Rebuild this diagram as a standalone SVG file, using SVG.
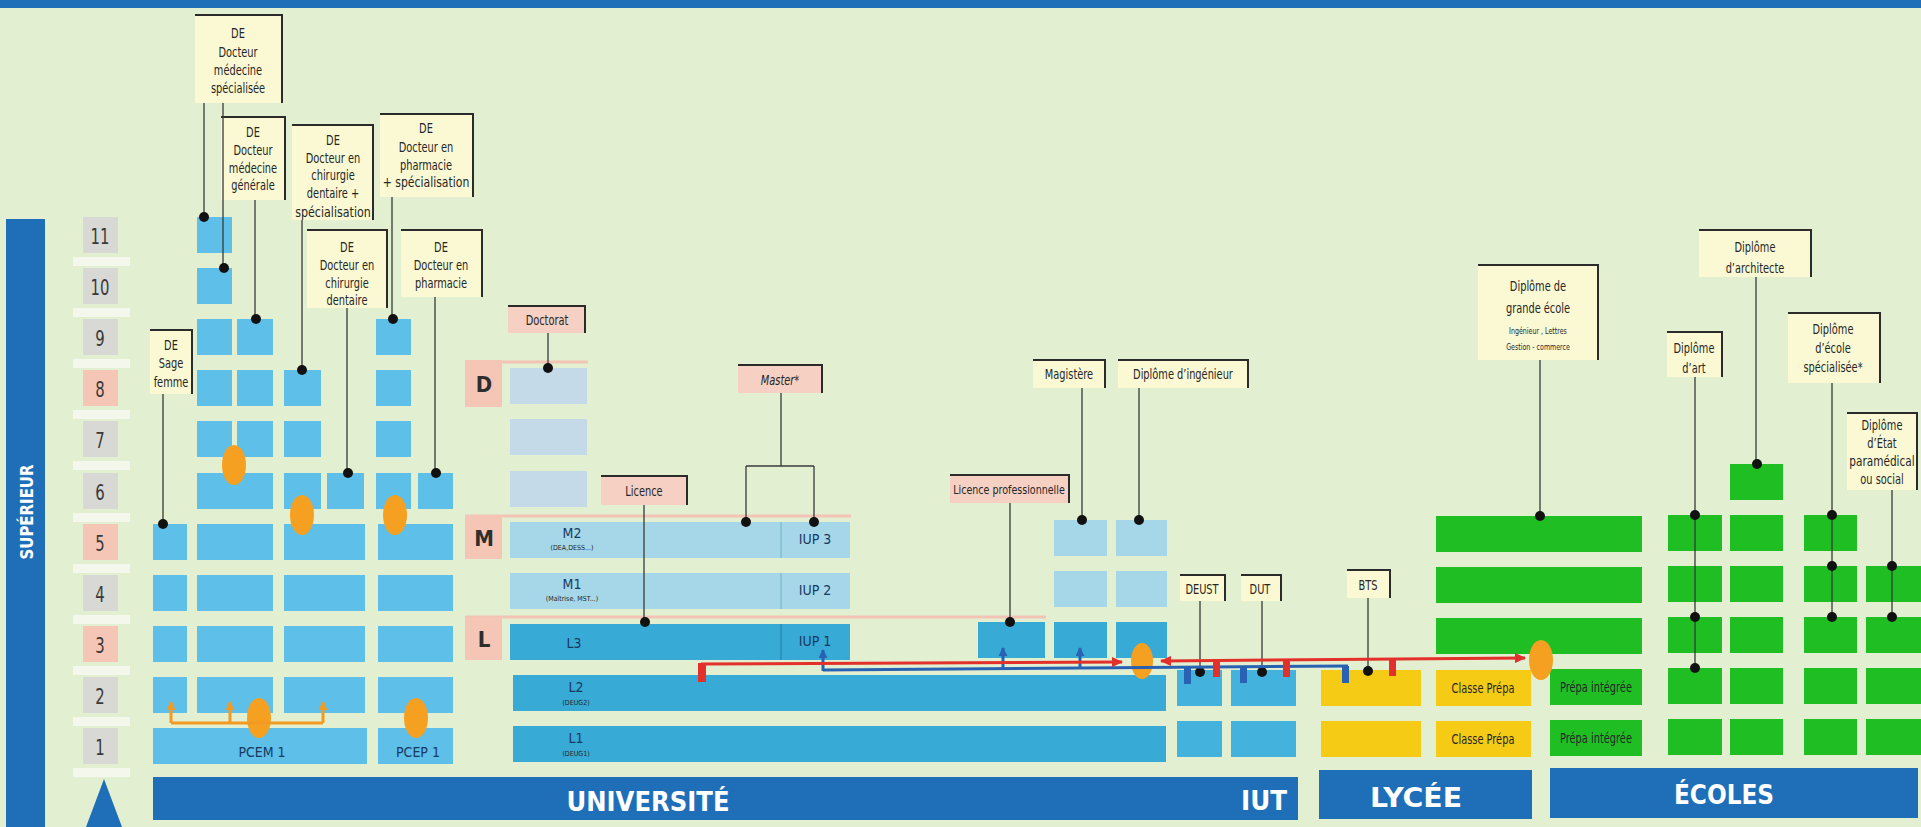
<svg xmlns="http://www.w3.org/2000/svg" width="1921" height="827" viewBox="0 0 1921 827">
<defs>
<style>
.med{fill:#5ebfe9}
.ul{fill:#38aad6}
.um{fill:#a5d7e8}
.ud{fill:#c4dae8}
.iut{fill:#43b2dc}
.grn{fill:#1fbe22}
.yel{fill:#f5cb16}
.org{fill:#f5a020}
.bar{fill:#1f6eb8}
.lbl{fill:#fbf9d4}
.lbp{fill:#f5d0c3}
.frm{fill:none;stroke:#2b2b2b;stroke-width:2}
.ln{fill:none;stroke:#3a3a3a;stroke-width:1.3}
.dot{fill:#111}
.lvg{fill:#d8d8d5}
.lvp{fill:#f5c6b6}
.strip{fill:#f4f7ec}
.t{font-family:"DejaVu Sans Condensed","DejaVu Sans","Liberation Sans",sans-serif;font-stretch:condensed;fill:#262626;text-anchor:middle}
.s14{font-size:14px}
.s12{font-size:12px}
.s8{font-size:7px}
.num{font-size:22px;fill:#3a3a3a}
.dml{font-size:22px;font-weight:bold;fill:#2e2e2e}
.nv{fill:#183a62;font-size:14px}
.big{font-family:"DejaVu Sans Condensed","DejaVu Sans","Liberation Sans",sans-serif;font-weight:bold;fill:#ffffff;text-anchor:middle;font-size:27px}
.red{stroke:#e3302a;stroke-width:3;fill:none}
.blu{stroke:#2a62b3;stroke-width:3;fill:none}
.orl{stroke:#f29a22;stroke-width:3;fill:none}
</style>
<marker id="ar" markerWidth="12" markerHeight="10" refX="10" refY="5" orient="auto-start-reverse" markerUnits="userSpaceOnUse"><path d="M0,0 L11,5 L0,10 z" fill="#e3302a"/></marker>
<marker id="ab" markerWidth="10" markerHeight="9" refX="8" refY="4.5" orient="auto" markerUnits="userSpaceOnUse"><path d="M0,0 L9,4.5 L0,9 z" fill="#2a62b3"/></marker>
<marker id="ao" markerWidth="10" markerHeight="9" refX="8" refY="4.5" orient="auto" markerUnits="userSpaceOnUse"><path d="M0,0 L9,4.5 L0,9 z" fill="#f29a22"/></marker>
</defs>

<rect x="0" y="0" width="1921" height="827" fill="#e2f0d1"/>
<rect x="0" y="0" width="1921" height="8" class="bar"/>

<g id="axis">
<rect x="6" y="219" width="39" height="608" class="bar"/>
<text class="big" transform="translate(33,512) rotate(-90)" textLength="95" lengthAdjust="spacingAndGlyphs" style="font-size:18px">SUPÉRIEUR</text>
<path d="M104,779 L122,827 L86,827 z" class="bar"/>
<rect x="73" y="257" width="57" height="9" class="strip"/>
<rect x="73" y="308" width="57" height="9" class="strip"/>
<rect x="73" y="359" width="57" height="9" class="strip"/>
<rect x="73" y="410" width="57" height="9" class="strip"/>
<rect x="73" y="461" width="57" height="9" class="strip"/>
<rect x="73" y="513" width="57" height="9" class="strip"/>
<rect x="73" y="564" width="57" height="9" class="strip"/>
<rect x="73" y="615" width="57" height="9" class="strip"/>
<rect x="73" y="666" width="57" height="9" class="strip"/>
<rect x="73" y="717" width="57" height="9" class="strip"/>
<rect x="73" y="768" width="57" height="9" class="strip"/>
<rect x="83" y="217" width="35" height="36" class="lvg"/>
<rect x="83" y="268" width="35" height="36" class="lvg"/>
<rect x="83" y="319" width="35" height="36" class="lvg"/>
<rect x="83" y="370" width="35" height="36" class="lvp"/>
<rect x="83" y="421" width="35" height="36" class="lvg"/>
<rect x="83" y="473" width="35" height="36" class="lvg"/>
<rect x="83" y="524" width="35" height="36" class="lvp"/>
<rect x="83" y="575" width="35" height="36" class="lvg"/>
<rect x="83" y="626" width="35" height="36" class="lvp"/>
<rect x="83" y="677" width="35" height="36" class="lvg"/>
<rect x="83" y="728" width="35" height="36" class="lvg"/>
<g transform="matrix(0.75 0 0 1 25 0)">
<text class="t num" x="100" y="244">11</text>
<text class="t num" x="100" y="295">10</text>
<text class="t num" x="100" y="346">9</text>
<text class="t num" x="100" y="397">8</text>
<text class="t num" x="100" y="448">7</text>
<text class="t num" x="100" y="500">6</text>
<text class="t num" x="100" y="551">5</text>
<text class="t num" x="100" y="602">4</text>
<text class="t num" x="100" y="653">3</text>
<text class="t num" x="100" y="704">2</text>
<text class="t num" x="100" y="755">1</text>
</g>
</g>

<g id="bars">
<rect x="153" y="777" width="1145" height="43" class="bar"/>
<rect x="1319" y="770" width="213" height="49" class="bar"/>
<rect x="1550" y="768" width="368" height="50" class="bar"/>
<text class="big" x="648" y="811" textLength="163" lengthAdjust="spacingAndGlyphs">UNIVERSITÉ</text>
<text class="big" x="1264" y="810" textLength="46" lengthAdjust="spacingAndGlyphs">IUT</text>
<text class="big" x="1416" y="807" textLength="92" lengthAdjust="spacingAndGlyphs">LYCÉE</text>
<text class="big" x="1724" y="804" textLength="100" lengthAdjust="spacingAndGlyphs">ÉCOLES</text>
</g>

<g id="col-sage-femme">
<rect x="153" y="677" width="34" height="36" class="med"/>
<rect x="153" y="626" width="34" height="36" class="med"/>
<rect x="153" y="575" width="34" height="36" class="med"/>
<rect x="153" y="524" width="34" height="36" class="med"/>
</g>
<g id="pcem1">
<rect x="153" y="728" width="214" height="36" class="med"/>
<text class="t nv" x="262" y="757">PCEM 1</text>
</g>
<g id="col-medecine">
<rect x="197" y="677" width="76" height="36" class="med"/>
<rect x="197" y="626" width="76" height="36" class="med"/>
<rect x="197" y="575" width="76" height="36" class="med"/>
<rect x="197" y="524" width="76" height="36" class="med"/>
<rect x="197" y="473" width="76" height="36" class="med"/>
<rect x="197" y="421" width="35" height="36" class="med"/>
<rect x="197" y="370" width="35" height="36" class="med"/>
<rect x="197" y="319" width="35" height="36" class="med"/>
<rect x="197" y="268" width="35" height="36" class="med"/>
<rect x="197" y="217" width="35" height="36" class="med"/>
<rect x="237" y="421" width="36" height="36" class="med"/>
<rect x="237" y="370" width="36" height="36" class="med"/>
<rect x="237" y="319" width="36" height="36" class="med"/>
</g>
<g id="col-dentaire">
<rect x="284" y="677" width="81" height="36" class="med"/>
<rect x="284" y="626" width="81" height="36" class="med"/>
<rect x="284" y="575" width="81" height="36" class="med"/>
<rect x="284" y="524" width="81" height="36" class="med"/>
<rect x="284" y="473" width="37" height="36" class="med"/>
<rect x="284" y="421" width="37" height="36" class="med"/>
<rect x="284" y="370" width="37" height="36" class="med"/>
<rect x="327" y="473" width="37" height="36" class="med"/>
</g>
<g id="col-pharmacie">
<rect x="378" y="728" width="75" height="36" class="med"/>
<text class="t nv" x="418" y="757">PCEP 1</text>
<rect x="378" y="677" width="75" height="36" class="med"/>
<rect x="378" y="626" width="75" height="36" class="med"/>
<rect x="378" y="575" width="75" height="36" class="med"/>
<rect x="378" y="524" width="75" height="36" class="med"/>
<rect x="376" y="473" width="35" height="36" class="med"/>
<rect x="376" y="421" width="35" height="36" class="med"/>
<rect x="376" y="370" width="35" height="36" class="med"/>
<rect x="376" y="319" width="35" height="36" class="med"/>
<rect x="418" y="473" width="35" height="36" class="med"/>
</g>

<g id="lmd-levels">
<line x1="465" y1="362" x2="588" y2="362" stroke="#f3c4b5" stroke-width="3"/>
<line x1="465" y1="516" x2="851" y2="516" stroke="#f3c4b5" stroke-width="3"/>
<line x1="465" y1="617" x2="1046" y2="617" stroke="#f3c4b5" stroke-width="3"/>
<rect x="465" y="360" width="37" height="47" class="lvp"/>
<rect x="465" y="516" width="37" height="43" class="lvp"/>
<rect x="465" y="617" width="37" height="43" class="lvp"/>
<text class="t dml" x="484" y="392">D</text>
<text class="t dml" x="484" y="546">M</text>
<text class="t dml" x="484" y="647">L</text>
</g>

<g id="universite">
<rect x="510" y="368" width="77" height="36" class="ud"/>
<rect x="510" y="419" width="77" height="36" class="ud"/>
<rect x="510" y="471" width="77" height="36" class="ud"/>
<rect x="510" y="522" width="340" height="36" class="um"/>
<rect x="510" y="573" width="340" height="36" class="um"/>
<rect x="510" y="624" width="340" height="36" class="ul"/>
<rect x="513" y="675" width="653" height="36" class="ul"/>
<rect x="513" y="726" width="653" height="36" class="ul"/>
<line x1="781" y1="522" x2="781" y2="558" stroke="#86bfd2" stroke-width="1.5"/>
<line x1="781" y1="573" x2="781" y2="609" stroke="#86bfd2" stroke-width="1.5"/>
<line x1="781" y1="624" x2="781" y2="660" stroke="#2a8db5" stroke-width="1.5"/>
<text class="t nv" x="572" y="538">M2</text>
<text class="t s8" x="572" y="550" fill="#183a62">(DEA,DESS...)</text>
<text class="t nv" x="572" y="589">M1</text>
<text class="t s8" x="572" y="601" fill="#183a62">(Maîtrise, MST...)</text>
<text class="t nv" x="574" y="648">L3</text>
<text class="t nv" x="576" y="692">L2</text>
<text class="t s8" x="576" y="705" fill="#183a62">(DEUG2)</text>
<text class="t nv" x="576" y="743">L1</text>
<text class="t s8" x="576" y="756" fill="#183a62">(DEUG1)</text>
<text class="t nv" x="815" y="544">IUP 3</text>
<text class="t nv" x="815" y="595">IUP 2</text>
<text class="t nv" x="815" y="646">IUP 1</text>
</g>

<g id="licence-pro-col">
<rect x="978" y="622" width="67" height="36" class="ul"/>
</g>
<g id="magistere-col">
<rect x="1054" y="520" width="53" height="36" class="um"/>
<rect x="1054" y="571" width="53" height="36" class="um"/>
<rect x="1054" y="622" width="53" height="36" class="ul"/>
</g>
<g id="ingenieur-col">
<rect x="1116" y="520" width="51" height="36" class="um"/>
<rect x="1116" y="571" width="51" height="36" class="um"/>
<rect x="1116" y="622" width="51" height="36" class="ul"/>
</g>
<g id="iut">
<rect x="1177" y="670" width="45" height="36" class="iut"/>
<rect x="1177" y="721" width="45" height="36" class="iut"/>
<rect x="1231" y="670" width="65" height="36" class="iut"/>
<rect x="1231" y="721" width="65" height="36" class="iut"/>
</g>
<g id="lycee-bts">
<rect x="1321" y="670" width="100" height="36" class="yel"/>
<rect x="1321" y="721" width="100" height="36" class="yel"/>
</g>
<g id="classe-prepa">
<rect x="1436" y="670" width="95" height="36" class="yel"/>
<rect x="1436" y="721" width="95" height="36" class="yel"/>
<g transform="matrix(0.78 0 0 1 326.26 0)">
<text class="t s14" x="1483" y="693" fill="#3a2a05">Classe Prépa</text>
<text class="t s14" x="1483" y="744" fill="#3a2a05">Classe Prépa</text>
</g>
</g>
<g id="prepa-integree">
<rect x="1550" y="669" width="92" height="36" class="grn"/>
<rect x="1550" y="720" width="92" height="36" class="grn"/>
<g transform="matrix(0.78 0 0 1 351.12 0)">
<text class="t s14" x="1596" y="692" fill="#173c12">Prépa intégrée</text>
<text class="t s14" x="1596" y="743" fill="#173c12">Prépa intégrée</text>
</g>
</g>
<g id="grande-ecole">
<rect x="1436" y="516" width="206" height="36" class="grn"/>
<rect x="1436" y="567" width="206" height="36" class="grn"/>
<rect x="1436" y="618" width="206" height="36" class="grn"/>
</g>
<g id="ecoles">
<rect x="1668" y="719" width="54" height="36" class="grn"/>
<rect x="1668" y="668" width="54" height="36" class="grn"/>
<rect x="1668" y="617" width="54" height="36" class="grn"/>
<rect x="1668" y="566" width="54" height="36" class="grn"/>
<rect x="1668" y="515" width="54" height="36" class="grn"/>
<rect x="1730" y="719" width="53" height="36" class="grn"/>
<rect x="1730" y="668" width="53" height="36" class="grn"/>
<rect x="1730" y="617" width="53" height="36" class="grn"/>
<rect x="1730" y="566" width="53" height="36" class="grn"/>
<rect x="1730" y="515" width="53" height="36" class="grn"/>
<rect x="1730" y="464" width="53" height="36" class="grn"/>
<rect x="1804" y="719" width="53" height="36" class="grn"/>
<rect x="1804" y="668" width="53" height="36" class="grn"/>
<rect x="1804" y="617" width="53" height="36" class="grn"/>
<rect x="1804" y="566" width="53" height="36" class="grn"/>
<rect x="1804" y="515" width="53" height="36" class="grn"/>
<rect x="1866" y="719" width="55" height="36" class="grn"/>
<rect x="1866" y="668" width="55" height="36" class="grn"/>
<rect x="1866" y="617" width="55" height="36" class="grn"/>
<rect x="1866" y="566" width="55" height="36" class="grn"/>
</g>

<g id="passerelles">
<ellipse cx="234" cy="465" rx="12" ry="20" class="org"/>
<ellipse cx="302" cy="515" rx="12" ry="20" class="org"/>
<ellipse cx="395" cy="515" rx="12" ry="20" class="org"/>
<ellipse cx="259" cy="718" rx="12" ry="20" class="org"/>
<ellipse cx="416" cy="718" rx="12" ry="20" class="org"/>
<ellipse cx="1142" cy="661" rx="11" ry="18" class="org"/>
<ellipse cx="1541" cy="660" rx="12" ry="20" class="org"/>
</g>

<g id="labels">
<g id="lbl-med-spe"><rect x="195" y="15" width="87" height="88" class="lbl"/><path d="M195,15 H282 V103" class="frm"/>
<text class="t s14" transform="matrix(0.78 0 0 1 52.36 0)"><tspan x="238" y="38">DE</tspan><tspan x="238" y="57">Docteur</tspan><tspan x="238" y="75">médecine</tspan><tspan x="238" y="93">spécialisée</tspan></text></g>
<g id="lbl-med-gen"><rect x="221" y="117" width="64" height="83" class="lbl"/><path d="M221,117 H285 V200" class="frm"/>
<text class="t s14" transform="matrix(0.78 0 0 1 55.66 0)"><tspan x="253" y="137">DE</tspan><tspan x="253" y="155">Docteur</tspan><tspan x="253" y="173">médecine</tspan><tspan x="253" y="190">générale</tspan></text></g>
<g id="lbl-dent-spe"><rect x="292" y="125" width="81" height="95" class="lbl"/><path d="M292,125 H373 V220" class="frm"/>
<text class="t s14" transform="matrix(0.78 0 0 1 73.26 0)"><tspan x="333" y="145">DE</tspan><tspan x="333" y="163">Docteur en</tspan><tspan x="333" y="180">chirurgie</tspan><tspan x="333" y="198">dentaire +</tspan><tspan x="333" y="217" textLength="97" lengthAdjust="spacingAndGlyphs">spécialisation</tspan></text></g>
<g id="lbl-pharma-spe"><rect x="380" y="114" width="93" height="83" class="lbl"/><path d="M380,114 H473 V197" class="frm"/>
<text class="t s14" transform="matrix(0.78 0 0 1 93.72 0)"><tspan x="426" y="133">DE</tspan><tspan x="426" y="152">Docteur en</tspan><tspan x="426" y="170">pharmacie</tspan><tspan x="426" y="187" textLength="111" lengthAdjust="spacingAndGlyphs">+ spécialisation</tspan></text></g>
<g id="lbl-dent"><rect x="307" y="230" width="80" height="78" class="lbl"/><path d="M307,230 H387 V308" class="frm"/>
<text class="t s14" transform="matrix(0.78 0 0 1 76.34 0)"><tspan x="347" y="252">DE</tspan><tspan x="347" y="270">Docteur en</tspan><tspan x="347" y="288">chirurgie</tspan><tspan x="347" y="305">dentaire</tspan></text></g>
<g id="lbl-pharma"><rect x="401" y="230" width="81" height="67" class="lbl"/><path d="M401,230 H482 V297" class="frm"/>
<text class="t s14" transform="matrix(0.78 0 0 1 97.02 0)"><tspan x="441" y="252">DE</tspan><tspan x="441" y="270">Docteur en</tspan><tspan x="441" y="288">pharmacie</tspan></text></g>
<g id="lbl-sage"><rect x="150" y="330" width="42" height="64" class="lbl"/><path d="M150,330 H192 V394" class="frm"/>
<text class="t s14" transform="matrix(0.78 0 0 1 37.62 0)"><tspan x="171" y="350">DE</tspan><tspan x="171" y="368">Sage</tspan><tspan x="171" y="387">femme</tspan></text></g>
<g id="lbl-doctorat"><rect x="508" y="306" width="77" height="27" class="lbp"/><path d="M508,306 H585 V333" class="frm"/>
<text class="t s14" x="547" y="325" transform="matrix(0.78 0 0 1 120.34 0)">Doctorat</text></g>
<g id="lbl-licence"><rect x="601" y="476" width="86" height="29" class="lbp"/><path d="M601,476 H687 V505" class="frm"/>
<text class="t s14" x="644" y="496" transform="matrix(0.78 0 0 1 141.68 0)">Licence</text></g>
<g id="lbl-master"><rect x="738" y="365" width="84" height="28" class="lbp"/><path d="M738,365 H822 V393" class="frm"/>
<text class="t s14" x="780" y="385" font-style="italic" transform="matrix(0.78 0 0 1 171.6 0)">Master*</text></g>
<g id="lbl-licence-pro"><rect x="950" y="475" width="119" height="28" class="lbp"/><path d="M950,475 H1069 V503" class="frm"/>
<text class="t s12" x="1009" y="494" textLength="143" lengthAdjust="spacingAndGlyphs" transform="matrix(0.78 0 0 1 221.98 0)">Licence professionnelle</text></g>
<g id="lbl-magistere"><rect x="1033" y="360" width="72" height="28" class="lbl"/><path d="M1033,360 H1105 V388" class="frm"/>
<text class="t s14" x="1069" y="379" transform="matrix(0.78 0 0 1 235.18 0)">Magistère</text></g>
<g id="lbl-ingenieur"><rect x="1118" y="360" width="130" height="28" class="lbl"/><path d="M1118,360 H1248 V388" class="frm"/>
<text class="t s14" x="1183" y="379" transform="matrix(0.78 0 0 1 260.26 0)">Diplôme d’ingénieur</text></g>
<g id="lbl-deust"><rect x="1180" y="575" width="45" height="26" class="lbl"/><path d="M1180,575 H1225 V601" class="frm"/>
<text class="t s14" x="1202" y="594" transform="matrix(0.78 0 0 1 264.44 0)">DEUST</text></g>
<g id="lbl-dut"><rect x="1241" y="575" width="40" height="26" class="lbl"/><path d="M1241,575 H1281 V601" class="frm"/>
<text class="t s14" x="1260" y="594" transform="matrix(0.78 0 0 1 277.2 0)">DUT</text></g>
<g id="lbl-bts"><rect x="1347" y="570" width="43" height="28" class="lbl"/><path d="M1347,570 H1390 V598" class="frm"/>
<text class="t s14" x="1368" y="590" transform="matrix(0.78 0 0 1 300.96 0)">BTS</text></g>
<g id="lbl-grande-ecole"><rect x="1478" y="265" width="120" height="95" class="lbl"/><path d="M1478,265 H1598 V360" class="frm"/>
<g transform="matrix(0.78 0 0 1 338.36 0)">
<text class="t s14"><tspan x="1538" y="291">Diplôme de</tspan><tspan x="1538" y="313">grande école</tspan></text>
<text class="t" style="font-size:9px"><tspan x="1538" y="334">Ingénieur , Lettres</tspan><tspan x="1538" y="350">Gestion - commerce</tspan></text>
</g></g>
<g id="lbl-architecte"><rect x="1699" y="230" width="112" height="47" class="lbl"/><path d="M1699,230 H1811 V277" class="frm"/>
<text class="t s14" transform="matrix(0.78 0 0 1 386.1 0)"><tspan x="1755" y="252">Diplôme</tspan><tspan x="1755" y="273">d’architecte</tspan></text></g>
<g id="lbl-art"><rect x="1667" y="332" width="55" height="45" class="lbl"/><path d="M1667,332 H1722 V377" class="frm"/>
<text class="t s14" transform="matrix(0.78 0 0 1 372.68 0)"><tspan x="1694" y="353">Diplôme</tspan><tspan x="1694" y="373">d’art</tspan></text></g>
<g id="lbl-specialisee"><rect x="1788" y="313" width="92" height="70" class="lbl"/><path d="M1788,313 H1880 V383" class="frm"/>
<text class="t s14" transform="matrix(0.78 0 0 1 403.26 0)"><tspan x="1833" y="334">Diplôme</tspan><tspan x="1833" y="353">d’école</tspan><tspan x="1833" y="372">spécialisée*</tspan></text></g>
<g id="lbl-paramedical"><rect x="1847" y="413" width="70" height="77" class="lbl"/><path d="M1847,413 H1917 V490" class="frm"/>
<text class="t s14" transform="matrix(0.78 0 0 1 414.04 0)"><tspan x="1882" y="430">Diplôme</tspan><tspan x="1882" y="448">d’État</tspan><tspan x="1882" y="466" textLength="84" lengthAdjust="spacingAndGlyphs">paramédical</tspan><tspan x="1882" y="484">ou social</tspan></text></g>
</g>

<g id="connectors">
<path d="M204,103 V217 M223,103 V268 M255,200 V319 M302,220 V370 M392,197 V319 M347,308 V473 M435,297 V473 M163,394 V524" class="ln"/>
<path d="M548,333 V368 M644,505 V622 M781,393 V466 M746,466 H814 M746,466 V522 M814,466 V522 M1010,503 V622 M1082,388 V520 M1139,388 V520 M1200,601 V671 M1262,601 V671 M1368,598 V671" class="ln"/>
<path d="M1540,360 V516 M1695,377 V668 M1756,277 V464 M1832,383 V617 M1892,490 V617" class="ln"/>
<circle cx="204" cy="217" r="5" class="dot"/>
<circle cx="224" cy="268" r="5" class="dot"/>
<circle cx="256" cy="319" r="5" class="dot"/>
<circle cx="302" cy="370" r="5" class="dot"/>
<circle cx="393" cy="319" r="5" class="dot"/>
<circle cx="348" cy="473" r="5" class="dot"/>
<circle cx="436" cy="473" r="5" class="dot"/>
<circle cx="163" cy="524" r="5" class="dot"/>
<circle cx="548" cy="368" r="5" class="dot"/>
<circle cx="645" cy="622" r="5" class="dot"/>
<circle cx="746" cy="522" r="5" class="dot"/>
<circle cx="814" cy="522" r="5" class="dot"/>
<circle cx="1010" cy="622" r="5" class="dot"/>
<circle cx="1082" cy="520" r="5" class="dot"/>
<circle cx="1139" cy="520" r="5" class="dot"/>
<circle cx="1200" cy="672" r="5" class="dot"/>
<circle cx="1262" cy="672" r="5" class="dot"/>
<circle cx="1368" cy="671" r="5" class="dot"/>
<circle cx="1540" cy="516" r="5" class="dot"/>
<circle cx="1695" cy="515" r="5" class="dot"/>
<circle cx="1695" cy="617" r="5" class="dot"/>
<circle cx="1695" cy="668" r="5" class="dot"/>
<circle cx="1757" cy="464" r="5" class="dot"/>
<circle cx="1832" cy="515" r="5" class="dot"/>
<circle cx="1832" cy="566" r="5" class="dot"/>
<circle cx="1832" cy="617" r="5" class="dot"/>
<circle cx="1892" cy="566" r="5" class="dot"/>
<circle cx="1892" cy="617" r="5" class="dot"/>
<path d="M171,723 H323" class="orl"/>
<path d="M171,723 V702" class="orl" marker-end="url(#ao)"/>
<path d="M230,723 V702" class="orl" marker-end="url(#ao)"/>
<path d="M323,723 V702" class="orl" marker-end="url(#ao)"/>
<path d="M823,670 L1348,666" class="blu"/>
<path d="M823,671 V650" class="blu" marker-end="url(#ab)"/>
<path d="M1003,669 V648" class="blu" marker-end="url(#ab)"/>
<path d="M1080,668 V648" class="blu" marker-end="url(#ab)"/>
<rect x="1184" y="666" width="7" height="18" fill="#2a62b3"/>
<rect x="1240" y="666" width="7" height="17" fill="#2a62b3"/>
<rect x="1342" y="666" width="7" height="17" fill="#2a62b3"/>
<path d="M701,664 L1122,662" class="red" marker-end="url(#ar)"/>
<path d="M1161,661 L1525,658" class="red" marker-start="url(#ar)" marker-end="url(#ar)"/>
<rect x="698" y="663" width="8" height="19" fill="#e3302a"/>
<rect x="1213" y="661" width="7" height="16" fill="#e3302a"/>
<rect x="1283" y="661" width="7" height="16" fill="#e3302a"/>
<rect x="1389" y="660" width="7" height="16" fill="#e3302a"/>
</g>
</svg>
